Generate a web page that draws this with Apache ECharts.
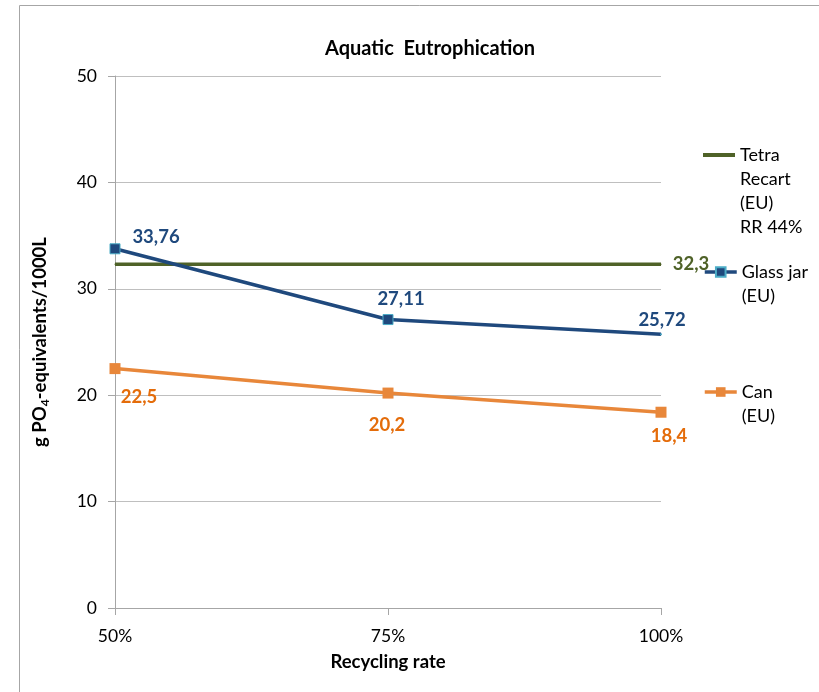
<!DOCTYPE html>
<html>
<head>
<meta charset="utf-8">
<script src="https://cdn.jsdelivr.net/npm/echarts@6/dist/echarts.min.js"></script>
<style>
  html, body { margin: 0; padding: 0; background: #fff; }
  #main { width: 819px; height: 692px; }
</style>
</head>
<body>
<div id="main"></div>
<script>
const categories = ['50%', '75%', '100%']
const tetraValues = [32.3, 32.3, 32.3]
const glassValues = [33.76, 27.11, 25.72]
const canValues = [22.5, 20.2, 18.4]

// label offsets
const glassOffsets = [[41, -12], [13, -21], [1, -14]]
const canOffsets = [[24, 28], [-1, 32], [8, 24]]

const FONT = 'Lato'
const fmt = v => String(v).replace('.', ',')

const green = '#4f6228'
const blue = '#1f497d'
const orange = '#e8873a'
const orangeText = '#e46c0a'

const labelFont = { fontFamily: FONT, fontWeight: 'bold', fontSize: 18.5 }

function labelled(values, offsets, color, hideLast) {
    return values.map((v, i) => ({
        value: v,
        symbolSize: hideLast && i === values.length - 1 ? 1 : undefined,
        label: Object.assign({
            show: true,
            position: 'inside',
            offset: offsets[i],
            formatter: () => fmt(v),
            color: color
        }, labelFont)
    }))
}

const tetraData = tetraValues.map((v, i) => ({
    value: v,
    label: Object.assign({
        show: i === tetraValues.length - 1,
        position: 'inside',
        offset: [30, 0],
        formatter: () => fmt(v),
        color: green
    }, labelFont)
}))

// icon sits on the first line: pad the text with blank lines above
function legendFor(item, top, lines, itemHeight) {
    return {
        data: [item],
        left: 698,
        top: top,
        padding: 5,
        itemWidth: 32,
        itemHeight: itemHeight,
        selectedMode: false,
        lineStyle: { width: 3.5 },
        formatter: name => '\n'.repeat(lines - 1) + name,
        textStyle: { fontFamily: FONT, fontSize: 18, color: '#000', lineHeight: 24 }
    }
}

const TETRA = 'Tetra\nRecart\n(EU)\nRR 44%'
const GLASS = 'Glass jar\n(EU)'
const CAN = 'Can\n(EU)'

const chart = echarts.init(document.getElementById('main'))
chart.setOption({
    backgroundColor: '#fff',
    animation: false,
    graphic: [{
        type: 'rect',
        shape: { x: 19.5, y: 5.5, width: 900, height: 900 },
        style: { fill: 'none', stroke: '#a6a6a6', lineWidth: 1 },
        silent: true
    }],
    title: {
        text: 'Aquatic  Eutrophication',
        left: 320,
        top: 34,
        textStyle: { fontFamily: FONT, fontSize: 20, fontWeight: 'bold', color: '#000' }
    },
    legend: [
        legendFor({ name: TETRA, icon: 'rect', itemStyle: { color: green } }, 66, 4, 4),
        legendFor(GLASS, 231, 2, 12),
        legendFor(CAN, 351, 2, 12)
    ],
    grid: { left: 115, right: 158, top: 76, bottom: 84, containLabel: false },
    xAxis: {
        type: 'category',
        data: categories,
        boundaryGap: false,
        name: 'Recycling rate',
        nameLocation: 'middle',
        nameGap: 45,
        nameTextStyle: { fontFamily: FONT, fontSize: 18.5, fontWeight: 'bold', color: '#000' },
        axisLine: { lineStyle: { color: '#a6a6a6' } },
        axisTick: { show: true, length: 7, alignWithLabel: true, lineStyle: { color: '#a6a6a6' } },
        axisLabel: { margin: 19, fontFamily: FONT, fontSize: 17.5, color: '#000' },
        splitLine: { show: false }
    },
    yAxis: {
        type: 'value',
        min: 0,
        max: 50,
        interval: 10,
        name: 'g PO{sub|4}-equivalents/1000L',
        nameLocation: 'middle',
        nameGap: 64,
        nameRotate: 90,
        nameTextStyle: {
            fontFamily: FONT, fontSize: 18.5, fontWeight: 'bold', color: '#000',
            rich: {
                sub: { fontFamily: FONT, fontSize: 12, fontWeight: 'bold', color: '#000', padding: [9, 0, 0, 0] }
            }
        },
        axisLine: { show: true, lineStyle: { color: '#a6a6a6' } },
        axisTick: { show: true, length: 7, lineStyle: { color: '#a6a6a6' } },
        axisLabel: { margin: 18, fontFamily: FONT, fontSize: 17.5, color: '#000' },
        splitLine: { lineStyle: { color: '#bfbfbf', width: 1 } }
    },
    series: [
        {
            name: TETRA,
            type: 'line',
            data: tetraData,
            symbol: 'rect',
            symbolSize: 1,
            lineStyle: { color: green, width: 3.5 },
            itemStyle: { color: green }
        },
        {
            name: GLASS,
            type: 'line',
            data: labelled(glassValues, glassOffsets, blue, true),
            symbol: 'rect',
            symbolSize: 10,
            lineStyle: { color: blue, width: 3.5 },
            itemStyle: { color: blue, borderColor: '#4bacc6', borderWidth: 1 }
        },
        {
            name: CAN,
            type: 'line',
            data: labelled(canValues, canOffsets, orangeText, false),
            symbol: 'rect',
            symbolSize: 11,
            lineStyle: { color: orange, width: 3.5 },
            itemStyle: { color: orange }
        }
    ]
})
</script>
</body>
</html>
